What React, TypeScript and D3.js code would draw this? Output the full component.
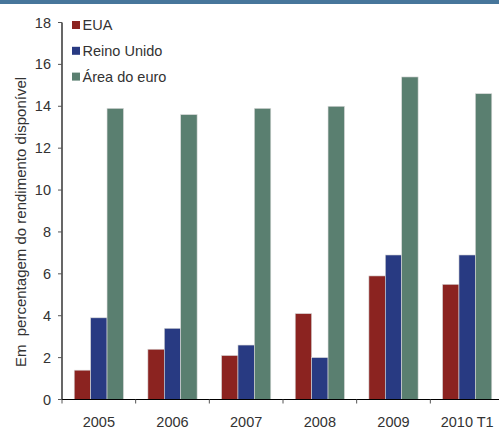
import React from "react";
import * as d3 from "d3";

const categories = ["2005", "2006", "2007", "2008", "2009", "2010 T1"];
const seriesNames = ["EUA", "Reino Unido", "Área do euro"];
const eua = [1.4, 2.4, 2.1, 4.1, 5.9, 5.5];
const reinoUnido = [3.9, 3.4, 2.6, 2.0, 6.9, 6.9];
const areaEuro = [13.9, 13.6, 13.9, 14.0, 15.4, 14.6];
const yTicks = [0, 2, 4, 6, 8, 10, 12, 14, 16, 18];
const colors = ["#8B2320", "#283A82", "#5A7F70"];

export default function App() {
  const W = 499, H = 431;
  const left = 62, right = 504, top = 22.5, bottom = 399.5;
  const series = [eua, reinoUnido, areaEuro];
  const x = d3.scaleBand<string>().domain(categories).range([left, right]).paddingInner(0).paddingOuter(0);
  const inner = d3.scaleBand<number>().domain([0, 1, 2]).range([0, x.bandwidth()]).paddingOuter(0.745).paddingInner(0);
  const y = d3.scaleLinear().domain([0, 18]).range([bottom, top]);
  const font = "'Liberation Sans', Arial, sans-serif";
  const textColor = "#333";
  return (
    <svg width={W} height={H} style={{ position: "absolute", left: 0, top: 0 }} fontFamily={font}>
      <rect x={0} y={0} width={W} height={H} fill="#fff" />
      <rect x={0} y={0} width={W} height={4} fill="#47769B" />
      {series.map((vals, si) =>
        vals.map((v, ci) => (
          <rect
            key={`${si}-${ci}`}
            x={(x(categories[ci]) as number) + (inner(si) as number)}
            y={y(v)}
            width={inner.bandwidth()}
            height={y(0) - y(v)}
            fill={colors[si]}
            stroke="#d8d8d8"
            strokeWidth={0.6}
          />
        ))
      )}
      {/* y axis */}
      <line x1={left} x2={left} y1={top} y2={bottom} stroke="#000" strokeWidth={1.2} />
      {yTicks.map((t) => (
        <g key={t}>
          <line x1={left - 4} x2={left} y1={y(t)} y2={y(t)} stroke="#555" strokeWidth={1} />
          <text x={51} y={y(t)} dy="0.35em" textAnchor="end" fontSize={14.5} fill={textColor}>
            {t}
          </text>
        </g>
      ))}
      {/* x axis */}
      <line x1={left} x2={right} y1={bottom} y2={bottom} stroke="#000" strokeWidth={1.2} />
      {categories.map((c, i) => (
        <g key={c}>
          {i > 0 && (
            <line x1={x(c)} x2={x(c)} y1={bottom} y2={bottom + 4} stroke="#555" strokeWidth={1} />
          )}
          <text x={(x(c) as number) + x.bandwidth() / 2} y={427} textAnchor="middle" fontSize={14.5} fill={textColor}>
            {c}
          </text>
        </g>
      ))}
      <line x1={left} x2={left} y1={bottom} y2={bottom + 4} stroke="#555" strokeWidth={1} />
      {/* y title */}
      <text
        transform={`translate(25.5, 222) rotate(-90)`}
        textAnchor="middle"
        fontSize={15}
        fill={textColor}
        style={{ whiteSpace: "pre" }}
      >
        {"Em  percentagem do rendimento disponível"}
      </text>
      {/* legend */}
      {seriesNames.map((n, i) => (
        <g key={n} transform={`translate(72, ${25 + i * 25.8})`}>
          <rect x={0} y={-4} width={8} height={8} fill={colors[i]} />
          <text x={10.5} y={0} dy="0.36em" fontSize={14.5} fill={textColor}>
            {n}
          </text>
        </g>
      ))}
    </svg>
  );
}
